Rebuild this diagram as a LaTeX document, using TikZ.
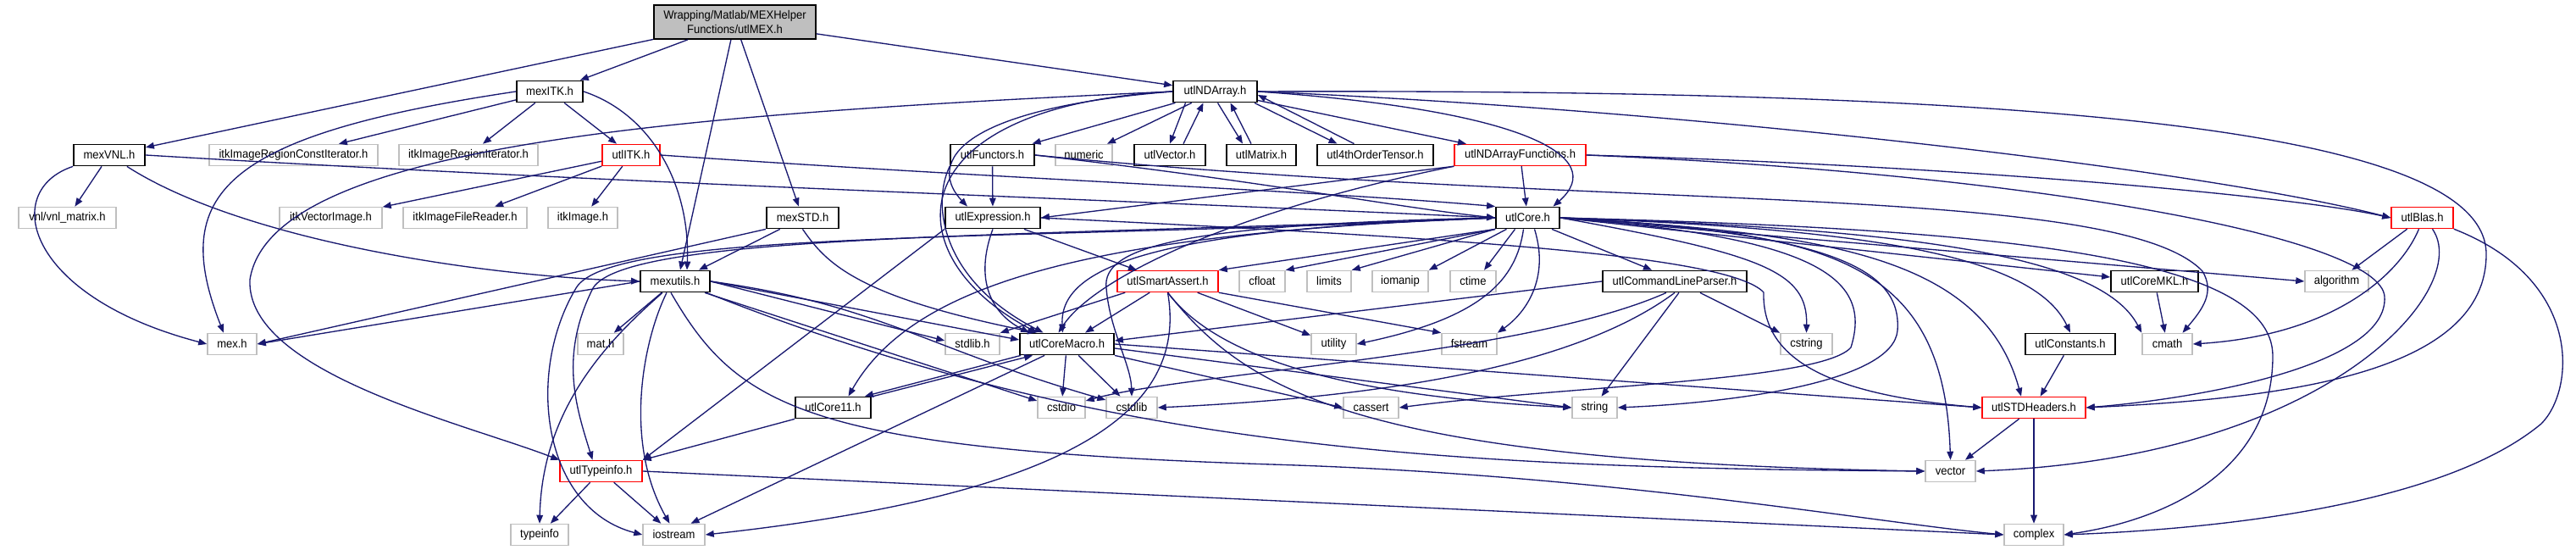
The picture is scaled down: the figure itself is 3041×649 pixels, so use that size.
\documentclass[tikz,border=0pt]{standalone}
\usepackage{fontspec}
\setmainfont{Liberation Sans}[FakeStretch=0.93]
\usetikzlibrary{arrows.meta,calc}
\definecolor{edgeblue}{HTML}{191970}
\definecolor{extgray}{HTML}{BFBFBF}
\definecolor{rootgray}{HTML}{BFBFBF}
\definecolor{truncred}{HTML}{FF0000}
\newcommand\nodefont{\fontsize{4.2}{5}\selectfont}
\begin{document}
\begin{tikzpicture}[x=0.3pt,y=-0.3pt,
  box/.style={draw, fill=white, inner sep=0pt, minimum height=7.5pt, font=\nodefont},
  doc/.style={box, draw=black, line width=0.55pt},
  ext/.style={box, draw=extgray, line width=0.45pt},
  trunc/.style={box, draw=truncred, line width=0.45pt},
  root/.style={box, draw=black, fill=rootgray, line width=0.55pt, minimum height=12pt, align=center},
  edge/.style={draw=edgeblue, line width=0.4pt, -{Triangle[length=3pt,width=2.3pt]}},
  wd/.style={minimum width=#1*0.3pt}]
\fill[white] (0,0) rectangle (3041,649);
\useasboundingbox (0,0) rectangle (3041,649);
% row 0
\node[root, wd=191] (utlMEX) at (867.5,26) {Wrapping/Matlab/MEXHelper\\Functions/utlMEX.h};
% row 1
\node[doc, wd=78] (mexITK) at (649,108) {mexITK.h};
\node[doc, wd=99] (utlNDArray) at (1434.5,108) {utlNDArray.h};
% row 2
\node[doc, wd=84] (mexVNL) at (129,183) {mexVNL.h};
\node[ext, wd=199] (icri) at (346.5,183) {itkImageRegionConstIterator.h};
\node[ext, wd=164] (iri) at (553,183) {itkImageRegionIterator.h};
\node[trunc, wd=68] (utlITK) at (745,183) {utlITK.h};
\node[doc, wd=99] (utlFunctors) at (1171.5,183) {utlFunctors.h};
\node[ext, wd=67] (numeric) at (1279.5,183) {numeric};
\node[doc, wd=84] (utlVector) at (1381,183) {utlVector.h};
\node[doc, wd=82] (utlMatrix) at (1489,183) {utlMatrix.h};
\node[doc, wd=137] (tensor) at (1623.5,183) {utl4thOrderTensor.h};
\node[trunc, wd=155] (ndaf) at (1794.5,183) {utlNDArrayFunctions.h};
% row 3
\node[ext, wd=115] (vnlm) at (79.5,257) {vnl/vnl\_matrix.h};
\node[ext, wd=121] (ivi) at (390.5,257) {itkVectorImage.h};
\node[ext, wd=146] (ifr) at (549,257) {itkImageFileReader.h};
\node[ext, wd=82] (iimg) at (688,257) {itkImage.h};
\node[doc, wd=85] (mexSTD) at (947.5,257) {mexSTD.h};
\node[doc, wd=112] (utlExpr) at (1172,257) {utlExpression.h};
\node[doc, wd=75] (utlCore) at (1803.5,257) {utlCore.h};
\node[trunc, wd=73] (utlBlas) at (2859.5,257) {utlBlas.h};
% row 4
\node[doc, wd=82] (mexutils) at (797,332) {mexutils.h};
\node[trunc, wd=119] (smart) at (1378.5,332) {utlSmartAssert.h};
\node[ext, wd=54] (cfloat) at (1490,332) {cfloat};
\node[ext, wd=52] (limits) at (1569,332) {limits};
\node[ext, wd=66] (iomanip) at (1653,332) {iomanip};
\node[ext, wd=54] (ctime) at (1739,332) {ctime};
\node[doc, wd=170] (clp) at (1977,332) {utlCommandLineParser.h};
\node[doc, wd=103] (mkl) at (2543.5,332) {utlCoreMKL.h};
\node[ext, wd=75] (algorithm) at (2758.5,332) {algorithm};
% row 5
\node[ext, wd=58] (mexh) at (274,406) {mex.h};
\node[ext, wd=54] (math) at (709,406) {mat.h};
\node[ext, wd=64] (stdlibh) at (1148,406) {stdlib.h};
\node[doc, wd=111] (macro) at (1259.5,406) {utlCoreMacro.h};
\node[ext, wd=53] (utility) at (1574.5,406) {utility};
\node[ext, wd=65] (fstream) at (1734.5,406) {fstream};
\node[ext, wd=61] (cstring) at (2132.5,406) {cstring};
\node[doc, wd=106] (constants) at (2444,406) {utlConstants.h};
\node[ext, wd=59] (cmath) at (2558.5,406) {cmath};
% row 6
\node[doc, wd=89] (core11) at (983.5,481) {utlCore11.h};
\node[ext, wd=56] (cstdio) at (1253,481) {cstdio};
\node[ext, wd=60] (cstdlib) at (1336,481) {cstdlib};
\node[ext, wd=65] (cassert) at (1618.5,481) {cassert};
\node[ext, wd=53] (string) at (1882.5,481) {string};
\node[trunc, wd=122] (stdh) at (2401,481) {utlSTDHeaders.h};
% row 7
\node[trunc, wd=97] (typeinfoh) at (709.5,556) {utlTypeinfo.h};
\node[ext, wd=59] (vector) at (2302.5,556) {vector};
% row 8
\node[ext, wd=68] (typeinfo) at (637,631) {typeinfo};
\node[ext, wd=73] (iostream) at (795.5,631) {iostream};
\node[ext, wd=70] (complex) at (2401,631) {complex};

% ---- edges from utlMEX
\draw[edge] (utlMEX) -- (mexITK);
\draw[edge] (utlMEX) -- (mexVNL);
\draw[edge] (utlMEX) -- ($(mexutils.north)+(6,0)$);
\draw[edge] (utlMEX) -- (mexSTD);
\draw[edge] (utlMEX) -- (utlNDArray);
% mexITK
\draw[edge] (mexITK) -- (icri);
\draw[edge] (mexITK) -- (iri);
\draw[edge] (mexITK) -- (utlITK);
\draw[edge] (mexITK.west) .. controls (260,160) and (200,230) .. ($(mexh.north)+(-10,0)$);
\draw[edge] (mexITK.east) .. controls (770,135) and (815,220) .. ($(mexutils.north)+(14,0)$);
% mexVNL
\draw[edge] (mexVNL) -- (vnlm);
\draw[edge] (mexVNL.south west) .. controls (0,225) and (30,350) .. (mexh.west);
\draw[edge] (mexVNL) .. controls (280,280) and (550,325) .. (mexutils.west);
\draw[edge] (mexVNL.east) .. controls (700,215) and (1300,235) .. (utlCore.west);
% utlITK
\draw[edge] (utlITK) -- (ivi);
\draw[edge] (utlITK) -- (ifr);
\draw[edge] (utlITK) -- (iimg);
\draw[edge] (utlITK.east) .. controls (1200,212) and (1550,225) .. (utlCore.north west);
% utlNDArray
\draw[edge] (utlNDArray) -- (utlFunctors);
\draw[edge] (utlNDArray) -- (numeric);
\draw[edge] ($(utlNDArray.south)+(-35,0)$) -- (utlVector.north);
\draw[edge] ($(utlVector.north)+(16,0)$) -- ($(utlNDArray.south)+(-14,0)$);
\draw[edge] ($(utlNDArray.south)+(3,0)$) -- ($(utlMatrix.north)+(-22,0)$);
\draw[edge] ($(utlMatrix.north)+(-12,0)$) -- ($(utlNDArray.south)+(18,0)$);
\draw[edge] ($(utlNDArray.south east)+(-4,0)$) -- ($(tensor.north)+(-45,0)$);
\draw[edge] ($(tensor.north)+(-25,0)$) -- ($(utlNDArray.east)+(0,4)$);
\draw[edge] (utlNDArray) -- (ndaf);
\draw[edge] (utlNDArray.west) .. controls (1110,130) and (1100,200) .. ($(utlExpr.north)+(-30,0)$);
\draw[edge] (utlNDArray.west) .. controls (1060,125) and (1050,300) .. ($(macro.north)+(-35,0)$);
\draw[edge] (utlNDArray.east) .. controls (1800,130) and (1900,185) .. ($(utlCore.north)+(30,0)$);
\draw[edge] (utlNDArray.east) .. controls (2000,130) and (2600,200) .. (utlBlas.west);
\draw[edge] (utlNDArray.east) .. controls (2400,105) and (2935,150) .. (2935,300) .. controls (2935,440) and (2700,470) .. (stdh.east);
\draw[edge] (utlNDArray.west) .. controls (800,135) and (320,170) .. (295,330) .. controls (290,440) and (550,500) .. (typeinfoh.north west);
% utlFunctors
\draw[edge] (utlFunctors) -- (utlExpr);
\draw[edge] (utlFunctors.east) .. controls (1500,215) and (1650,245) .. (utlCore.west);
\draw[edge] (utlFunctors.south west) .. controls (1100,240) and (1110,330) .. ($(macro.north)+(-28,0)$);
\draw[edge] (utlFunctors.east) .. controls (1900,250) and (2500,215) .. (2600,320) .. controls (2615,345) and (2600,365) .. ($(cmath.north)+(18,0)$);
% utlNDArrayFunctions
\draw[edge] (ndaf) -- (utlCore);
\draw[edge] (ndaf.east) .. controls (2300,195) and (2700,230) .. (utlBlas.west);
\draw[edge] (ndaf.east) .. controls (2400,205) and (2810,280) .. (2815,350) .. controls (2820,430) and (2600,470) .. (stdh.east);
\draw[edge] (ndaf.south west) -- (utlExpr.east);
\draw[edge] (ndaf.south west) .. controls (1450,250) and (1290,330) .. ($(macro.north)+(-10,0)$);
% utlExpression
\draw[edge] (utlExpr) -- (smart);
\draw[edge] (utlExpr.south) .. controls (1150,330) and (1170,370) .. ($(macro.north west)+(12,0)$);
\draw[edge] (utlExpr.south west) -- (typeinfoh.north east);
\draw[edge] (utlExpr.east) .. controls (1700,280) and (2040,300) .. (2082,345) .. controls (2080,420) and (2150,465) .. (stdh.west);
% utlCore
\draw[edge] (utlCore.south west) -- (smart.north east);
\draw[edge] (utlCore.south west) -- (cfloat.north east);
\draw[edge] (utlCore.south west) -- (limits.north east);
\draw[edge] ($(utlCore.south)+(-25,0)$) -- (iomanip.north east);
\draw[edge] ($(utlCore.south)+(-15,0)$) -- ($(ctime.north)+(13,0)$);
\draw[edge] ($(utlCore.south east)+(-10,0)$) -- ($(clp.north)+(-27,0)$);
\draw[edge] ($(utlCore.south)+(-5,0)$) .. controls (1790,330) and (1750,375) .. (utility.east);
\draw[edge] ($(utlCore.south)+(8,0)$) .. controls (1830,330) and (1800,370) .. (fstream.north east);
\draw[edge] (utlCore.east) .. controls (2080,300) and (2134,320) .. (cstring.north);
\draw[edge] (utlCore.east) .. controls (2150,280) and (2210,330) .. (2185,410) .. controls (2150,450) and (1850,455) .. (cassert.east);
\draw[edge] (utlCore.east) .. controls (2170,275) and (2245,320) .. (2240,390) .. controls (2235,450) and (2050,475) .. (string.east);
\draw[edge] (utlCore.west) .. controls (1400,265) and (1300,290) .. (1306,340) .. controls (1310,390) and (1335,430) .. (cstdlib.north);
\draw[edge] (utlCore.west) .. controls (1380,270) and (1250,310) .. ($(macro.north)+(-5,0)$);
\draw[edge] (utlCore.west) .. controls (1300,275) and (1080,330) .. ($(core11.north)+(18,0)$);
\draw[edge] (utlCore.east) .. controls (2150,275) and (2295,300) .. (vector.north);
\draw[edge] (utlCore.east) .. controls (2150,275) and (2340,300) .. ($(stdh.north)+(-15,0)$);
\draw[edge] (utlCore.east) .. controls (2200,270) and (2400,300) .. (constants.north);
\draw[edge] (utlCore.east) .. controls (2250,270) and (2480,300) .. (cmath.north west);
\draw[edge] (utlCore.east) -- ($(mkl.west)+(0,-5)$);
\draw[edge] (utlCore.east) -- (algorithm.west);
\draw[edge] (utlCore.east) .. controls (2350,270) and (2683,300) .. (2683,420) .. controls (2683,560) and (2550,615) .. (complex.east);
\draw[edge] (utlCore.west) .. controls (1200,285) and (720,270) .. (680,340) .. controls (620,440) and (640,600) .. (iostream.west);
\draw[edge] (utlCore.west) .. controls (1200,280) and (740,275) .. (700,340) .. controls (660,420) and (680,480) .. ($(typeinfoh.north)+(-10,0)$);
% mexSTD
\draw[edge] (mexSTD.south west) -- (mexh.east);
\draw[edge] (mexSTD) -- ($(mexutils.north)+(28,0)$);
\draw[edge] (mexSTD.south) .. controls (975,310) and (1010,350) .. ($(macro.north west)+(20,0)$);
% mexutils
\draw[edge] (mexutils.west) -- (mexh.east);
\draw[edge] (mexutils) -- (math);
\draw[edge] (mexutils.east) -- ($(stdlibh.west)+(0,-4)$);
\draw[edge] (mexutils.east) -- ($(macro.west)+(0,-5)$);
\draw[edge] ($(mexutils.south)+(35,0)$) -- ($(cstdio.west)+(0,-8)$);
\draw[edge] (mexutils.east) .. controls (1040,360) and (1090,410) .. ($(cstdlib.west)+(0,-9)$);
\draw[edge] ($(mexutils.south east)+(-5,0)$) .. controls (1300,530) and (1700,552) .. (vector.west);
\draw[edge] ($(mexutils.south)+(-5,0)$) .. controls (870,480) and (950,530) .. (1500,548) .. controls (1900,560) and (2200,615) .. (complex.west);
\draw[edge] ($(mexutils.south)+(-10,0)$) .. controls (760,400) and (735,520) .. ($(iostream.north)+(-5,0)$);
\draw[edge] ($(mexutils.south)+(-15,0)$) .. controls (720,400) and (640,480) .. (typeinfo.north);
% utlSmartAssert
\draw[edge] (smart) -- (macro);
\draw[edge] ($(smart.south west)+(10,0)$) -- (stdlibh.north east);
\draw[edge] (smart) -- (utility);
\draw[edge] (smart.south east) -- (fstream.north west);
\draw[edge] (smart.south) .. controls (1450,440) and (1650,470) .. (string.west);
\draw[edge] (smart.south) .. controls (1470,460) and (1600,545) .. (vector.west);
\draw[edge] (smart.south) .. controls (1400,470) and (1300,580) .. (iostream.east);
% utlCoreMacro
\draw[edge] (macro) -- (cstdio);
\draw[edge] (macro) -- (cstdlib);
\draw[edge] ($(macro.south west)+(2,0)$) -- ($(core11.north east)+(-8,0)$);
\draw[edge] ($(core11.north east)+(2,0)$) -- ($(macro.south west)+(16,0)$);
\draw[edge] ($(macro.south west)+(30,0)$) -- ($(iostream.north)+(20,0)$);
\draw[edge] (macro.east) -- (stdh.west);
\draw[edge] ($(macro.east)+(0,5)$) -- (string.west);
\draw[edge] (macro.south east) -- (cassert.west);
% utlCore11
\draw[edge] (core11.south west) -- (typeinfoh.north east);
% utlCommandLineParser
\draw[edge] (clp.west) -- ($(macro.east)+(0,-4)$);
\draw[edge] ($(clp.south)+(-10,0)$) .. controls (1800,420) and (1400,440) .. ($(cstdio.east)+(0,-8)$);
\draw[edge] (clp.south) .. controls (1850,440) and (1600,470) .. (cstdlib.east);
\draw[edge] ($(clp.south)+(5,0)$) -- ($(string.north)+(8,0)$);
\draw[edge] ($(clp.south)+(30,0)$) -- (cstring.north west);
% misc
\draw[edge] (mkl) -- (cmath);
\draw[edge] (constants) -- (stdh);
\draw[edge] (stdh) -- (vector);
\draw[edge] (stdh) -- (complex);
\draw[edge] (utlBlas) -- (algorithm);
\draw[edge] ($(utlBlas.south)+(-4,0)$) .. controls (2835,320) and (2760,395) .. (cmath.east);
\draw[edge] ($(utlBlas.south)+(12,0)$) .. controls (2920,340) and (2750,540) .. (vector.east);
\draw[edge] (utlBlas.south east) .. controls (3050,330) and (3040,460) .. (3000,500) .. controls (2880,600) and (2600,625) .. (complex.east);
% utlTypeinfo
\draw[edge] (typeinfoh) -- (typeinfo);
\draw[edge] (typeinfoh) -- (iostream);
\draw[edge] (typeinfoh.east) -- (complex.west);
\end{tikzpicture}
\end{document}
